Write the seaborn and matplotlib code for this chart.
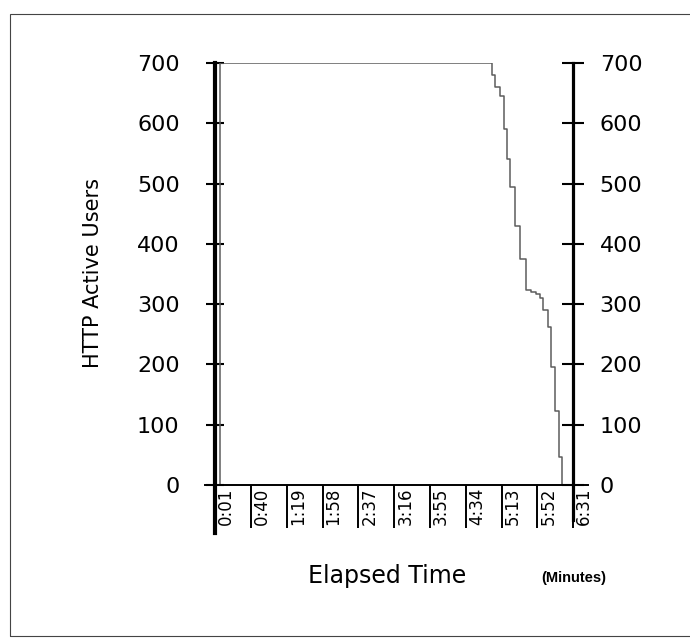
import matplotlib
matplotlib.use("Agg")
import matplotlib.pyplot as plt
import seaborn as sns
from matplotlib.patches import Rectangle

# Active HTTP users over the run (elapsed seconds -> users)
elapsed_s = [1, 4, 6, 298, 302, 306, 311, 315, 319, 322, 328, 333, 339,
             345, 350, 355, 358, 363, 367, 371, 375, 379, 391]
active_users = [0, 0, 700, 700, 680, 660, 645, 590, 540, 495, 430, 375, 323,
                320, 317, 310, 290, 262, 196, 123, 46, 0, 0]

# Axis ticks
tick_seconds = [1, 40, 79, 118, 157, 196, 235, 274, 313, 352, 391]
tick_labels = ["0:01", "0:40", "1:19", "1:58", "2:37", "3:16",
               "3:55", "4:34", "5:13", "5:52", "6:31"]
user_ticks = [0, 100, 200, 300, 400, 500, 600, 700]

sns.set_theme(style="white")
plt.rcParams["font.family"] = ["DejaVu Sans"]
plt.rcParams["text.color"] = "black"
plt.rcParams["xtick.color"] = "black"
plt.rcParams["ytick.color"] = "black"
plt.rcParams["xtick.labelcolor"] = "black"
plt.rcParams["ytick.labelcolor"] = "black"

W, H = 690, 641
fig = plt.figure(figsize=(W / 100, H / 100), dpi=100)
fig.patch.set_facecolor("white")
ax = fig.add_axes([205 / W, (H - 533) / H, 383 / W, 470 / H])

sns.lineplot(x=elapsed_s, y=active_users, drawstyle="steps-post",
             estimator=None, color="#5c5c5c", linewidth=1.1, ax=ax)

ax.set_xlim(-10, 407)
ax.set_ylim(-80, 700)
ax.set_facecolor("white")
ax.grid(False)
ax.set_xlabel("")
ax.set_ylabel("")

# spines: left value axis, time axis at zero, right value axis at the last tick
ax.spines["top"].set_visible(False)
ax.spines["right"].set_visible(False)
ax.spines["left"].set_position(("data", tick_seconds[0]))
ax.spines["left"].set_bounds(-80, 700)
ax.spines["left"].set_linewidth(3)
ax.spines["left"].set_color("black")
ax.spines["bottom"].set_position(("data", 0))
ax.spines["bottom"].set_linewidth(1.4)
ax.spines["bottom"].set_color("black")

ax.set_yticks(user_ticks)
ax.set_yticklabels([str(v) for v in user_ticks])
ax.tick_params(axis="y", which="major", direction="inout", length=13,
               width=1.5, color="black", labelcolor="black", left=True,
               right=False, labelleft=True, labelright=False, labelsize=16,
               pad=19)

# separators below the time axis, with labels sitting between them
ax.set_xticks(tick_seconds)
ax.xaxis.set_major_formatter(plt.NullFormatter())
ax.tick_params(axis="x", which="major", direction="out", length=31,
               width=1.4, color="black", bottom=True)
ax.set_xticks([t + 12 for t in tick_seconds], minor=True)
ax.set_xticklabels(tick_labels, minor=True)
ax.tick_params(axis="x", which="minor", length=0, pad=2,
               labelrotation=90, labelsize=12, labelcolor="black")

# right-hand value axis
ax2 = ax.twinx()
ax2.set_ylim(-80, 700)
ax2.grid(False)
for side in ["top", "left", "bottom"]:
    ax2.spines[side].set_visible(False)
ax2.spines["right"].set_position(("data", tick_seconds[-1]))
ax2.spines["right"].set_bounds(-58, 700)
ax2.spines["right"].set_linewidth(2.3)
ax2.spines["right"].set_color("black")
ax2.set_yticks(user_ticks)
ax2.set_yticklabels([str(v) for v in user_ticks])
ax2.tick_params(axis="y", direction="inout", length=16, width=1.5,
                color="black", labelcolor="black", right=True, left=False,
                labelright=True, labelleft=False, labelsize=16, pad=11)

fig.text(93 / W, 1 - 273 / H, "HTTP Active Users", rotation=90,
         ha="center", va="center", fontsize=15, color="black")
fig.text(387 / W, 1 - 576 / H, "Elapsed Time", ha="center", va="center",
         fontsize=17, color="black")
fig.text(574 / W, 1 - 578 / H, "(Minutes)", ha="center", va="center",
         fontsize=10.5, fontweight="bold", family=["Liberation Sans"],
         color="black")

# page frame
fig.add_artist(Rectangle((10 / W, 1 - 636 / H), 700 / W, 622 / H,
                         transform=fig.transFigure, fill=False,
                         edgecolor="#444444", linewidth=0.8, clip_on=False))

fig.savefig("out.png", dpi=100)
